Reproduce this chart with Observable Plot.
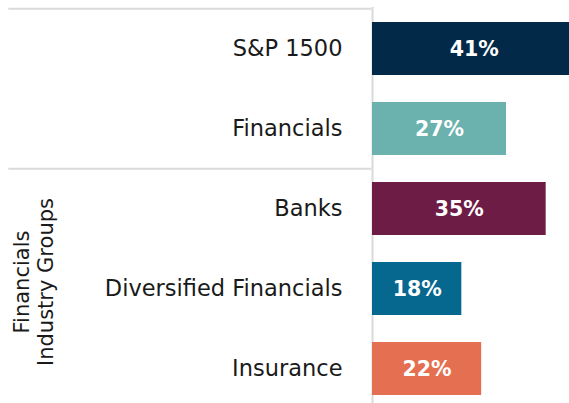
<!DOCTYPE html>
<html>
<head>
<meta charset="utf-8">
<script src="https://cdn.jsdelivr.net/npm/d3@7"></script>
<script src="https://cdn.jsdelivr.net/npm/@observablehq/plot@0.6"></script>
<style>
  html, body { margin: 0; padding: 0; background: white; overflow: hidden; }
</style>
</head>
<body>
<div id="chart"></div>
<script>
const categories = ["S&P 1500", "Financials", "Banks", "Diversified Financials", "Insurance"];
const values = [41, 27, 35, 18, 22];
const colors = ["#022947", "#6bb1ad", "#6d1c45", "#06678f", "#e56f51"];
const valueLabels = ["41%", "27%", "35%", "18%", "22%"];
const groupLabel = "Financials\nIndustry Groups";
const groupAnchorCategory = "Diversified Financials";
const separatorCategories = ["S&P 1500", "Banks"];
const xDomain = [0, 39.7];
const ruleStart = -73.2;

const data = categories.map((c, i) => ({category: c, value: values[i], label: valueLabels[i]}));
const groupData = [{category: groupAnchorCategory, label: groupLabel}];

const chart = Plot.plot({
  width: 569,
  height: 403,
  marginLeft: 372,
  marginRight: 0,
  marginTop: 7,
  marginBottom: 0,
  style: {fontFamily: "DejaVu Sans", background: "white", overflow: "hidden"},
  x: {domain: xDomain, axis: null},
  y: {domain: categories, paddingInner: 0.335, paddingOuter: 0.124, align: 0.65, axis: null},
  color: {domain: categories, range: colors},
  marks: [
    Plot.ruleX([0], {stroke: "#dadada", strokeWidth: 2}),
    Plot.ruleY(separatorCategories, {y: d => d, x1: ruleStart, x2: 0, dx: -0.5, dy: -40.3, stroke: "#dadada", strokeWidth: 2}),
    Plot.barX(data, {x: "value", y: "category", fill: "category", clip: true}),
    Plot.text(data, {x: 0, y: "category", text: "category", textAnchor: "end", dx: -30, fontSize: 22.5, fill: "#1a1a1a"}),
    Plot.text(data, {x: d => d.value / 2, y: "category", text: "label", fill: "white", fontWeight: "bold", fontSize: 20.5}),
    Plot.text(groupData, {x: 0, y: "category", text: "label", rotate: -90, dx: -339, dy: -7, fontSize: 21, lineHeight: 1.12, fill: "#1a1a1a"})
  ]
});
document.getElementById("chart").appendChild(chart);
</script>
</body>
</html>
